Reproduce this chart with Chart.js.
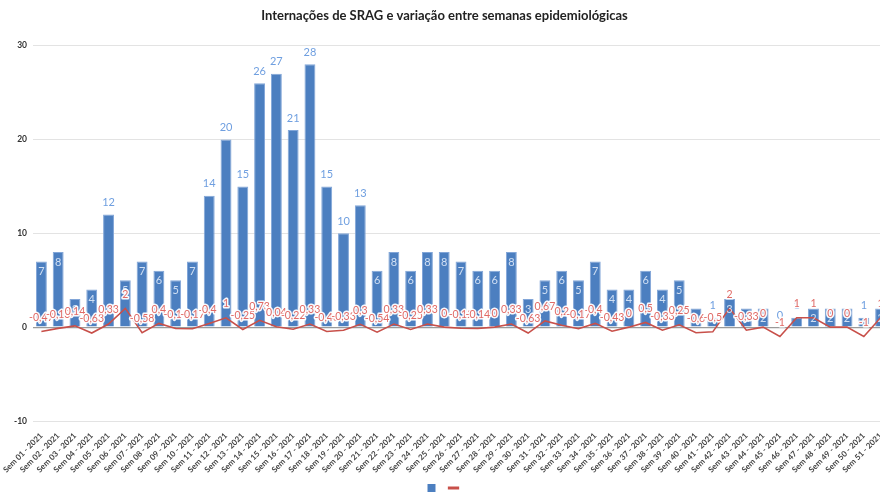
<!DOCTYPE html>
<html>
<head>
<meta charset="utf-8">
<script src="https://cdn.jsdelivr.net/npm/chart.js@4/dist/chart.umd.min.js"></script>
<style>
  html, body { margin: 0; padding: 0; background: #fff; overflow: hidden; }
  #wrap { width: 905px; height: 502px; position: relative; }
</style>
</head>
<body>
<div id="wrap"><canvas id="c"></canvas></div>
<script>
const semanas = [
  'Sem 01 - 2021','Sem 02 - 2021','Sem 03 - 2021','Sem 04 - 2021','Sem 05 - 2021',
  'Sem 06 - 2021','Sem 07 - 2021','Sem 08 - 2021','Sem 09 - 2021','Sem 10 - 2021',
  'Sem 11 - 2021','Sem 12 - 2021','Sem 13 - 2021','Sem 14 - 2021','Sem 15 - 2021',
  'Sem 16 - 2021','Sem 17 - 2021','Sem 18 - 2021','Sem 19 - 2021','Sem 20 - 2021',
  'Sem 21 - 2021','Sem 22 - 2021','Sem 23 - 2021','Sem 24 - 2021','Sem 25 - 2021',
  'Sem 26 - 2021','Sem 27 - 2021','Sem 28 - 2021','Sem 29 - 2021','Sem 30 - 2021',
  'Sem 31 - 2021','Sem 32 - 2021','Sem 33 - 2021','Sem 34 - 2021','Sem 35 - 2021',
  'Sem 36 - 2021','Sem 37 - 2021','Sem 38 - 2021','Sem 39 - 2021','Sem 40 - 2021',
  'Sem 41 - 2021','Sem 42 - 2021','Sem 43 - 2021','Sem 44 - 2021','Sem 45 - 2021',
  'Sem 46 - 2021','Sem 47 - 2021','Sem 48 - 2021','Sem 49 - 2021','Sem 50 - 2021',
  'Sem 51 - 2021'
];
const internacoes = [7,8,3,4,12,5,7,6,5,7,14,20,15,26,27,21,28,15,10,13,6,8,6,8,8,7,6,6,8,3,5,6,5,7,4,4,6,4,5,2,1,3,2,2,0,1,2,2,2,1,2];
const variacao = [-0.47,-0.13,0.14,-0.63,0.33,2,-0.58,0.4,-0.14,-0.17,
  0.4,1,-0.25,0.73,0.04,-0.22,0.33,-0.46,-0.33,0.3,
  -0.54,0.33,-0.25,0.33,0,-0.12,-0.14,0,0.33,-0.63,
  0.67,0.2,-0.17,0.4,-0.43,0,0.5,-0.33,0.25,-0.6,
  -0.5,2,-0.33,0,-1,1,1,0,0,-1,1];
const yTicks = [-10, 0, 10, 20, 30];
const titulo = 'Internações de SRAG e variação entre semanas epidemiológicas';

const corBarra = '#4c7fc0';
const corLinha = '#c8504a';

Chart.defaults.font.family = 'Lato, "Open Sans", sans-serif';

const valueLabels = {
  id: 'valueLabels',
  afterDatasetsDraw(chart) {
    const ctx = chart.ctx;
    ctx.save();
    ctx.textAlign = 'center';
    ctx.textBaseline = 'middle';
    const barData = chart.data.datasets[0].data;
    const barMeta = chart.getDatasetMeta(0);
    ctx.font = '11px Lato, sans-serif';
    barMeta.data.forEach((el, i) => {
      const v = barData[i];
      if (v >= 10 || v <= 1) {
        ctx.fillStyle = '#6f9fe0';
        ctx.fillText(String(v), el.x, el.y - 12);
      } else {
        ctx.fillStyle = 'rgba(232,240,252,0.85)';
        ctx.fillText(String(v), el.x, el.y + 10);
      }
    });
    const lineData = chart.data.datasets[1].data;
    const lineMeta = chart.getDatasetMeta(1);
    ctx.font = '10.5px Lato, sans-serif';
    ctx.lineJoin = 'round';
    lineMeta.data.forEach((el, i) => {
      const t = String(lineData[i]).replace('.', ',');
      ctx.lineWidth = 3;
      ctx.strokeStyle = 'rgba(255,255,255,0.95)';
      ctx.strokeText(t, el.x, el.y - 14);
      ctx.fillStyle = '#e06a66';
      ctx.fillText(t, el.x, el.y - 14);
    });
    ctx.restore();
  }
};

new Chart(document.getElementById('c'), {
  data: {
    labels: semanas,
    datasets: [
      {
        type: 'bar',
        label: 'Internações',
        data: internacoes,
        backgroundColor: corBarra,
        borderColor: '#82a6d8',
        borderWidth: 1,
        categoryPercentage: 0.65,
        barPercentage: 1,
        order: 1
      },
      {
        type: 'line',
        label: 'Variação',
        data: variacao,
        borderColor: corLinha,
        backgroundColor: corLinha,
        borderWidth: 1.6,
        pointRadius: 0,
        tension: 0,
        order: 0
      }
    ]
  },
  options: {
    responsive: true,
    maintainAspectRatio: false,
    animation: false,
    layout: { padding: { left: 0, right: 16, top: 0, bottom: 0 } },
    plugins: {
      title: {
        display: true,
        text: titulo,
        color: '#222',
        font: { family: 'Lato, sans-serif', size: 13, weight: 'bold' },
        padding: { top: 8, bottom: 22 }
      },
      legend: {
        display: true,
        position: 'bottom',
        labels: {
          usePointStyle: true,
          boxWidth: 8,
          boxHeight: 8,
          padding: 10,
          font: { size: 8 },
          generateLabels(chart) {
            const items = Chart.defaults.plugins.legend.labels.generateLabels(chart);
            items.sort((a, b) => a.datasetIndex - b.datasetIndex);
            items.forEach(it => {
              it.text = '';
              if (it.datasetIndex === 0) {
                it.pointStyle = 'rect';
                it.lineWidth = 0;
                it.fillStyle = corBarra;
                it.strokeStyle = corBarra;
              } else {
                it.pointStyle = 'line';
                it.lineWidth = 3;
                it.strokeStyle = corLinha;
              }
            });
            return items;
          }
        }
      },
      tooltip: { enabled: false }
    },
    scales: {
      x: {
        grid: { display: false },
        border: { display: false },
        ticks: {
          autoSkip: false,
          maxRotation: 45,
          minRotation: 45,
          color: '#444',
          padding: 2,
          font: { family: 'Lato, sans-serif', size: 8, weight: 'bold' }
        },
        afterFit(s) { s.height = 53; }
      },
      y: {
        min: -10,
        max: 30,
        afterBuildTicks(s) { s.ticks = yTicks.map(v => ({ value: v })); },
        grid: {
          color: (c) => (c.tick && c.tick.value === 0) ? '#9a9a9a' : '#e3e3e3',
          lineWidth: (c) => (c.tick && c.tick.value === 0) ? 1.2 : 1,
          drawTicks: false
        },
        border: { display: false },
        ticks: {
          color: '#333',
          padding: 6,
          font: { family: 'Lato, sans-serif', size: 8.5, weight: 'bold' }
        },
        afterFit(s) { s.width = 33; }
      }
    }
  },
  plugins: [valueLabels]
});
</script>
</body>
</html>
